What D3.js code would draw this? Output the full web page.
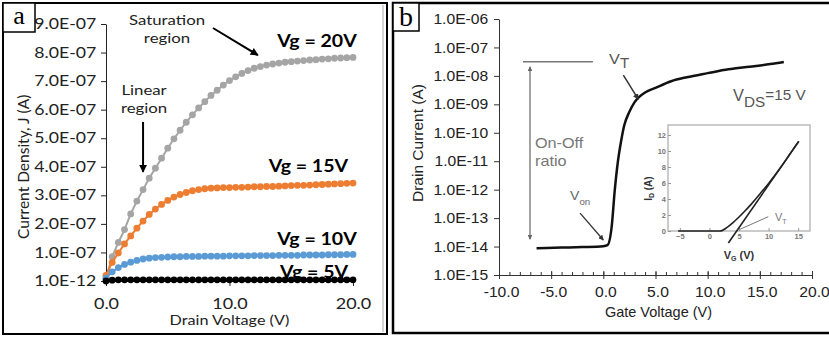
<!DOCTYPE html>
<html>
<head>
  <meta http-equiv="Content-Type" content="text/html;charset=utf-8" />
  <style type="text/css">
    body { margin: 0; background: #fff; }
    .pa text { font-family: Lato, "Open Sans", sans-serif; fill: #222; }
    .pb text { font-family: "Liberation Sans", Arial, sans-serif; fill: #222; }
  </style>
</head>
<body>
  <div id="svgContainer"></div>
  <script src="https://d3js.org/d3.v7.min.js"></script>
  <script type="text/javascript">
    var w = 829;
    var h = 337;

    // ---- panel a : output curves (J in units of 1e-7 A) ----
    var drainV = [0, 0.5, 1, 1.5, 2, 2.5, 3, 3.5, 4, 4.5, 5, 5.5, 6, 6.5, 7, 7.5, 8, 8.5, 9, 9.5, 10,
                  10.5, 11, 11.5, 12, 12.5, 13, 13.5, 14, 14.5, 15, 15.5, 16, 16.5, 17, 17.5, 18, 18.5, 19, 19.5, 20];
    var jVg20 = [0.1, 0.85, 1.35, 1.8, 2.35, 2.8, 3.2, 3.6, 3.95, 4.3, 4.65, 4.98, 5.28, 5.56, 5.82, 6.06, 6.28, 6.5, 6.68, 6.86, 7.02,
                 7.15, 7.27, 7.37, 7.45, 7.51, 7.56, 7.6, 7.63, 7.66, 7.68, 7.7, 7.72, 7.74, 7.75, 7.77, 7.78, 7.8, 7.81, 7.82, 7.83];
    var jVg15 = [0.2, 0.65, 0.98, 1.3, 1.58, 1.85, 2.1, 2.33, 2.52, 2.68, 2.82, 2.94, 3.03, 3.1, 3.16, 3.2, 3.23, 3.25, 3.26, 3.27, 3.27,
                 3.28, 3.28, 3.29, 3.3, 3.3, 3.31, 3.31, 3.32, 3.33, 3.34, 3.35, 3.35, 3.36, 3.37, 3.38, 3.39, 3.4, 3.41, 3.42, 3.43];
    var jVg10 = [0.1, 0.32, 0.47, 0.58, 0.66, 0.72, 0.77, 0.8, 0.82, 0.83, 0.84, 0.85, 0.85, 0.86, 0.86, 0.86, 0.87, 0.87, 0.87, 0.87, 0.88,
                 0.88, 0.88, 0.88, 0.89, 0.89, 0.89, 0.89, 0.9, 0.9, 0.9, 0.9, 0.91, 0.91, 0.91, 0.91, 0.92, 0.92, 0.92, 0.93, 0.93];
    var jVg5 = [0.0, 0.03, 0.04, 0.04, 0.04, 0.04, 0.04, 0.04, 0.04, 0.04, 0.04, 0.04, 0.04, 0.04, 0.04, 0.04, 0.04, 0.04, 0.04, 0.04, 0.04,
                0.04, 0.04, 0.04, 0.04, 0.04, 0.04, 0.04, 0.04, 0.04, 0.04, 0.04, 0.04, 0.04, 0.04, 0.04, 0.04, 0.04, 0.04, 0.04, 0.04];
    var seriesA = [
      { name: "Vg = 20V", values: jVg20, color: "#a5a5a5" },
      { name: "Vg = 15V", values: jVg15, color: "#ed7d31" },
      { name: "Vg = 10V", values: jVg10, color: "#5b9bd5" },
      { name: "Vg = 5V", values: jVg5, color: "#000000" }
    ];
    var yTicksA = [0, 1, 2, 3, 4, 5, 6, 7, 8, 9];
    var yTickLabelsA = ["1.0E-12", "1.0E-07", "2.0E-07", "3.0E-07", "4.0E-07", "5.0E-07", "6.0E-07", "7.0E-07", "8.0E-07", "9.0E-07"];
    var xTicksA = [0, 10, 20];
    var xTickLabelsA = ["0.0", "10.0", "20.0"];

    // ---- panel b : transfer curve ----
    var gateV = [-6.4, -4.0, -2.0, 0.0, 0.4, 0.8, 1.1, 1.4, 1.7, 2.0, 2.5, 3.0, 3.5, 4.0, 5.0, 6.5, 8.0, 10.0, 12.0, 14.0, 16.0, 17.3];
    var drainI = [8.8e-15, 9.2e-15, 9.6e-15, 1.03e-14, 1.12e-14, 5e-14, 1e-12, 1e-11, 5e-11, 1.8e-10, 5.5e-10, 1.2e-9, 1.9e-9,
                  2.6e-9, 3.8e-9, 6.5e-9, 9e-9, 1.25e-8, 1.7e-8, 2.1e-8, 2.6e-8, 3.1e-8];
    var yTicksB = [1e-15, 1e-14, 1e-13, 1e-12, 1e-11, 1e-10, 1e-9, 1e-8, 1e-7, 1e-6];
    var yTickLabelsB = ["1.0E-15", "1.0E-14", "1.0E-13", "1.0E-12", "1.0E-11", "1.0E-10", "1.0E-09", "1.0E-08", "1.0E-07", "1.0E-06"];
    var xTicksB = [-10, -5, 0, 5, 10, 15, 20];
    var xTickLabelsB = ["-10.0", "-5.0", "0.0", "5.0", "10.0", "15.0", "20.0"];

    // ---- inset : linear I-V ----
    var insetVg = [-5.3, 0, 1.8, 3, 4, 5, 6, 7, 8, 9, 10, 11, 12, 13, 14, 15.1];
    var insetId = [0, 0, 0, 0.45, 1.05, 1.75, 2.5, 3.3, 4.15, 5.05, 5.95, 6.9, 7.9, 8.95, 10.05, 11.2];
    var tangentVg = [3.2, 15.1];
    var tangentId = [-1.5, 11.2];
    var yTicksI = [0, 2, 4, 6, 8, 10, 12];
    var xTicksI = [-5, 0, 5, 10, 15];

    var svg = d3.select("#svgContainer")
      .append("svg")
      .attr("width", w)
      .attr("height", h);

    // text in the source is wider than it is tall
    var SXA = 1.2;
    var SXB = 1.08;
    var SERIF = "'Liberation Serif', 'Times New Roman', serif";

    function hText(g, x, y, str, sx) {
      return g.append("text")
        .attr("transform", "translate(" + x + "," + y + ") scale(" + sx + ",1)")
        .text(str);
    }

    function arrowHead(id, color, size) {
      svg.select("defs").append("marker")
        .attr("id", id)
        .attr("viewBox", "0 0 10 10")
        .attr("refX", 9).attr("refY", 5)
        .attr("markerWidth", size).attr("markerHeight", size)
        .attr("orient", "auto-start-reverse")
        .append("path")
        .attr("d", "M0,0 L10,5 L0,10 z")
        .attr("fill", color);
    }
    svg.append("defs");
    arrowHead("arrA", "#000", 4);
    arrowHead("arrB", "#333", 4);
    arrowHead("arrG", "#666", 4);

    // =================== PANEL A ===================
    var ga = svg.append("g").attr("class", "pa");

    ga.append("rect")
      .attr("x", 3).attr("y", 3).attr("width", 384).attr("height", 331)
      .attr("fill", "none").attr("stroke", "#000").attr("stroke-width", 2);
    ga.append("line").attr("x1", 383).attr("x2", 383).attr("y1", 5).attr("y2", 332)
      .attr("stroke", "#aaa").attr("stroke-width", 1);

    var xA = d3.scaleLinear().domain([0, 20]).range([106, 353]);
    var yA = d3.scaleLinear().domain([0, 9]).range([281, 24]);

    var yAxisA = ga.append("g")
      .attr("transform", "translate(" + xA(0) + ",0)")
      .call(d3.axisLeft(yA).tickValues(yTicksA).tickSize(5).tickSizeOuter(0).tickPadding(3)
        .tickFormat(function (d, i) { return yTickLabelsA[i]; }));
    yAxisA.selectAll(".tick text").attr("transform", "scale(1.22,1)")
      .style("font-size", "14.5px");

    var xAxisA = ga.append("g")
      .attr("transform", "translate(0," + yA(0) + ")")
      .call(d3.axisBottom(xA).tickValues(xTicksA).tickSize(5).tickSizeOuter(0).tickPadding(12)
        .tickFormat(function (d, i) { return xTickLabelsA[i]; }));
    xAxisA.selectAll(".tick text").attr("transform", "scale(" + SXA + ",1)")
      .style("font-size", "15px");
    ga.selectAll(".domain, .tick line").attr("stroke", "#222");

    hText(ga, (xA(0) + xA(20)) / 2, 325, "Drain Voltage (V)", SXA)
      .attr("text-anchor", "middle").style("font-size", "13.5px");
    ga.append("text")
      .attr("transform", "translate(29," + (yA(4.0)) + ") rotate(-90)")
      .attr("text-anchor", "middle").style("font-size", "15.5px")
      .text("Current Density, J (A)");

    // curve labels (drawn before the markers, the 5V one is partly hidden)
    var labelPos = [[20.3, 8.19], [19.6, 3.82], [20.3, 1.26], [19.6, 0.1]];
    seriesA.forEach(function (s, i) {
      hText(ga, xA(labelPos[i][0]), yA(labelPos[i][1]), s.name, 1.15)
        .attr("text-anchor", "end")
        .style("font-size", "17px").style("font-weight", "bold").style("fill", "#000");
    });

    var lineA = d3.line()
      .x(function (d, i) { return xA(drainV[i]); })
      .y(function (d) { return yA(d); });

    seriesA.forEach(function (s) {
      var g = ga.append("g");
      g.append("path")
        .attr("d", lineA(s.values))
        .attr("fill", "none")
        .attr("stroke", s.color)
        .attr("stroke-width", 2);
      g.selectAll("circle")
        .data(s.values)
        .enter().append("circle")
        .attr("cx", function (d, i) { return xA(drainV[i]); })
        .attr("cy", function (d) { return yA(d); })
        .attr("r", 3.4)
        .attr("fill", s.color);
    });

    // annotations
    hText(ga, xA(4.94), yA(8.96), "Saturation", SXA).attr("text-anchor", "middle").style("font-size", "14px");
    hText(ga, xA(4.94), yA(8.33), "region", SXA).attr("text-anchor", "middle").style("font-size", "14px");
    ga.append("line")
      .attr("x1", xA(8.66)).attr("y1", yA(8.86)).attr("x2", xA(12.3)).attr("y2", yA(7.91))
      .attr("stroke", "#000").attr("stroke-width", 2).attr("marker-end", "url(#arrA)");
    hText(ga, xA(3.08), yA(6.51), "Linear", SXA).attr("text-anchor", "middle").style("font-size", "14px");
    hText(ga, xA(3.08), yA(5.88), "region", SXA).attr("text-anchor", "middle").style("font-size", "14px");
    ga.append("line")
      .attr("x1", xA(3.0)).attr("y1", yA(5.57)).attr("x2", xA(3.0)).attr("y2", yA(3.82))
      .attr("stroke", "#000").attr("stroke-width", 2).attr("marker-end", "url(#arrA)");

    ga.append("rect").attr("x", 3).attr("y", 3).attr("width", 32).attr("height", 29)
      .attr("fill", "#fff").attr("stroke", "#000").attr("stroke-width", 1.5);
    ga.append("text").attr("x", 19).attr("y", 24)
      .attr("text-anchor", "middle")
      .style("font-family", SERIF)
      .style("font-size", "26px").style("fill", "#000").text("a");

    // =================== PANEL B ===================
    var gb = svg.append("g").attr("class", "pb");

    gb.append("rect")
      .attr("x", 393).attr("y", 3).attr("width", 450).attr("height", 330)
      .attr("fill", "none").attr("stroke", "#000").attr("stroke-width", 2.5);

    var xB = d3.scaleLinear().domain([-10, 20]).range([499, 812]);
    var yB = d3.scaleLog().domain([1e-15, 1e-6]).range([275, 19]);

    var yAxisB = gb.append("g")
      .attr("transform", "translate(" + xB(-10) + ",0)")
      .call(d3.axisLeft(yB).tickValues(yTicksB).tickSize(5).tickSizeOuter(0).tickPadding(5)
        .tickFormat(function (d, i) { return yTickLabelsB[i]; }));
    yAxisB.selectAll(".tick text").attr("transform", "scale(" + SXB + ",1)").style("font-size", "14.5px");

    // minor x ticks every 1 V
    gb.append("g")
      .attr("transform", "translate(0," + yB(1e-15) + ")")
      .call(d3.axisBottom(xB).ticks(30).tickSize(-3).tickSizeOuter(0).tickFormat(""))
      .select(".domain").remove();
    var xAxisB = gb.append("g")
      .attr("transform", "translate(0," + yB(1e-15) + ")")
      .call(d3.axisBottom(xB).tickValues(xTicksB).tickSize(4).tickSizeOuter(0).tickPadding(8)
        .tickFormat(function (d, i) { return xTickLabelsB[i]; }));
    xAxisB.selectAll(".tick line").attr("y1", -4);
    xAxisB.selectAll(".tick text").attr("transform", "translate(2,0) scale(" + SXB + ",1)").style("font-size", "14.5px");
    gb.selectAll(".domain, .tick line").attr("stroke", "#333");

    gb.append("text")
      .attr("x", (xB(-10) + xB(20)) / 2 + 3).attr("y", 317)
      .attr("text-anchor", "middle").style("font-size", "14.5px")
      .text("Gate Voltage (V)");
    gb.append("text")
      .attr("transform", "translate(423," + 143 + ") rotate(-90)")
      .attr("text-anchor", "middle").style("font-size", "15.5px")
      .text("Drain Current (A)");

    var lineB = d3.line()
      .x(function (d, i) { return xB(gateV[i]); })
      .y(function (d) { return yB(d); })
      .curve(d3.curveMonotoneX);
    gb.append("path")
      .attr("d", lineB(drainI))
      .attr("fill", "none")
      .attr("stroke", "#111")
      .attr("stroke-width", 2.5)
      .attr("stroke-linejoin", "round");

    // on/off annotation
    gb.append("line")
      .attr("x1", xB(-7.7)).attr("x2", xB(-1.0)).attr("y1", yB(3.16e-8)).attr("y2", yB(3.16e-8))
      .attr("stroke", "#777").attr("stroke-width", 1.5);
    gb.append("line")
      .attr("x1", xB(-7.03)).attr("x2", xB(-7.03)).attr("y1", yB(2.1e-8)).attr("y2", yB(1.8e-14))
      .attr("stroke", "#666").attr("stroke-width", 1.2)
      .attr("marker-start", "url(#arrG)").attr("marker-end", "url(#arrG)");
    hText(gb, xB(-6.55), yB(2.9e-11), "On-Off", SXB).style("font-size", "15px").style("fill", "#777");
    hText(gb, xB(-6.55), yB(6.8e-12), "ratio", SXB).style("font-size", "15px").style("fill", "#777");

    // VT
    var vt = gb.append("text")
      .attr("transform", "translate(" + xB(0.55) + "," + yB(2.6e-8) + ") scale(" + SXB + ",1)")
      .style("fill", "#555");
    vt.append("tspan").style("font-size", "15px").text("V");
    vt.append("tspan").attr("dy", 4).style("font-size", "14px").text("T");
    gb.append("line")
      .attr("x1", xB(1.92)).attr("y1", yB(1.07e-8)).attr("x2", xB(3.36)).attr("y2", yB(1.5e-9))
      .attr("stroke", "#333").attr("stroke-width", 1.5).attr("marker-end", "url(#arrB)");

    // Von
    var von = gb.append("text")
      .attr("transform", "translate(" + xB(-3.19) + "," + yB(4.4e-13) + ") scale(" + SXB + ",1)")
      .style("fill", "#666");
    von.append("tspan").style("font-size", "13px").text("V");
    von.append("tspan").attr("dy", 5).style("font-size", "9px").text("on");
    gb.append("line")
      .attr("x1", xB(-2.23)).attr("y1", yB(1.5e-13)).attr("x2", xB(0.0)).attr("y2", yB(1.7e-14))
      .attr("stroke", "#333").attr("stroke-width", 1.3).attr("marker-end", "url(#arrB)");

    // VDS
    var vds = gb.append("text")
      .attr("transform", "translate(" + xB(12.44) + "," + yB(1.26e-9) + ") scale(1.02,1)")
      .style("fill", "#555");
    vds.append("tspan").style("font-size", "16px").text("V");
    vds.append("tspan").attr("dy", 6).style("font-size", "15px").text("DS");
    vds.append("tspan").attr("dy", -7).style("font-size", "15px").text("=15 V");

    // ---- inset ----
    var gi = gb.append("g");
    var xI = d3.scaleLinear().domain([-7, 17]).range([668, 810]);
    var yI = d3.scaleLinear().domain([0, 13.25]).range([231, 125]);

    gi.append("rect")
      .attr("x", xI(-7)).attr("y", yI(13.25))
      .attr("width", xI(17) - xI(-7)).attr("height", yI(0) - yI(13.25))
      .attr("fill", "#fff").attr("stroke", "#bbb").attr("stroke-width", 1.5);

    gi.append("g")
      .attr("transform", "translate(" + xI(-7) + ",0)")
      .call(d3.axisLeft(yI).tickValues(yTicksI).tickSize(-3).tickPadding(2).tickSizeOuter(0));
    gi.append("g")
      .attr("transform", "translate(0," + yI(0) + ")")
      .call(d3.axisBottom(xI).tickValues(xTicksI).tickSize(-3).tickPadding(3).tickSizeOuter(0));
    gi.selectAll(".domain").remove();
    gi.selectAll(".tick line").attr("stroke", "#999");
    gi.selectAll(".tick text").style("font-size", "7.5px").style("font-weight", "bold").style("fill", "#777");

    var lineI = d3.line()
      .x(function (d, i) { return xI(insetVg[i]); })
      .y(function (d) { return yI(d); })
      .curve(d3.curveMonotoneX);
    gi.append("path")
      .attr("d", lineI(insetId))
      .attr("fill", "none").attr("stroke", "#222").attr("stroke-width", 1.6);
    gi.append("line")
      .attr("x1", xI(tangentVg[0])).attr("y1", yI(tangentId[0]))
      .attr("x2", xI(tangentVg[1])).attr("y2", yI(tangentId[1]))
      .attr("stroke", "#222").attr("stroke-width", 1.6);

    gi.append("line")
      .attr("x1", xI(9.95)).attr("y1", yI(1.79)).attr("x2", xI(5.17)).attr("y2", yI(0.21))
      .attr("stroke", "#777").attr("stroke-width", 1);
    var ivt = gi.append("text")
      .attr("x", xI(11.08)).attr("y", yI(1.3)).style("fill", "#777");
    ivt.append("tspan").style("font-size", "11px").text("V");
    ivt.append("tspan").attr("dy", 3).style("font-size", "7px").text("T");

    var idl = gi.append("text")
      .attr("transform", "translate(" + (xI(-7) - 16) + "," + (yI(5.3)) + ") rotate(-90)")
      .attr("text-anchor", "middle").style("font-weight", "bold").style("fill", "#333");
    idl.append("tspan").style("font-size", "10px").text("I");
    idl.append("tspan").attr("dy", 2).style("font-size", "7px").text("D");
    idl.append("tspan").attr("dy", -2).style("font-size", "10px").text(" (A)");

    var vgl = gi.append("text")
      .attr("x", xI(5)).attr("y", 259)
      .attr("text-anchor", "middle").style("font-weight", "bold").style("fill", "#333");
    vgl.append("tspan").style("font-size", "11px").text("V");
    vgl.append("tspan").attr("dy", 2).style("font-size", "7px").text("G");
    vgl.append("tspan").attr("dy", -2).style("font-size", "11px").text(" (V)");

    gb.append("rect").attr("x", 393).attr("y", 3).attr("width", 26).attr("height", 28)
      .attr("fill", "#fff").attr("stroke", "#000").attr("stroke-width", 1.5);
    gb.append("text").attr("x", 406).attr("y", 26)
      .attr("text-anchor", "middle")
      .style("font-family", SERIF)
      .style("font-size", "28px").style("fill", "#000").text("b");
  </script>
</body>
</html>
